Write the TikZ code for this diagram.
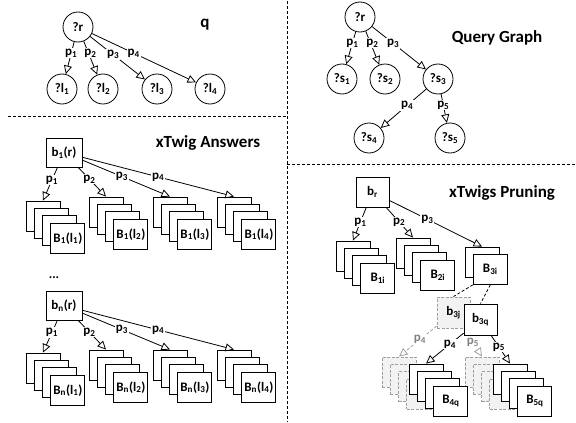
\documentclass[tikz,border=0pt]{standalone}
\usepackage{fontspec}
\setmainfont{Carlito}
\usetikzlibrary{arrows.meta}

\tikzset{
  every node/.style={font=\bfseries\fontsize{13}{13}\selectfont},
  qvar/.style={circle, draw, line width=0.8pt, minimum size=30pt, inner sep=0pt, fill=white},
  bnode/.style={rectangle, draw, line width=0.9pt, minimum width=34pt, minimum height=30pt, inner sep=0pt, fill=white},
  gnode/.style={bnode, draw=gray!75, dash pattern=on 3pt off 1.5pt, fill=gray!10},
  edge/.style={line width=0.8pt, -{Triangle[open, length=8.5pt, width=8pt]}},
  gedge/.style={edge, draw=gray!75, dash pattern=on 3pt off 2pt},
  link/.style={line width=0.8pt, dash pattern=on 3pt off 2pt},
  lbl/.style={fill=white, inner sep=1pt},
  glbl/.style={lbl, text=gray},
  title/.style={font=\bfseries\fontsize{17}{17}\selectfont},
  divider/.style={line width=0.7pt, dash pattern=on 3pt off 2pt},
}

% a stack of answer boxes: name, left, top, count, style, label of the front box
\newcommand{\twigstack}[6]{%
  \foreach \k in {1,...,#4}{%
    \node[#5] (#1-\k) at ({#2+17+(\k-1)*8.3},{#3+15+(\k-1)*7.4}) {\ifnum\k=#4 #6\fi};
  }%
}
\newcommand{\sbs}[1]{\textsubscript{#1}}

\begin{document}
\begin{tikzpicture}[x=1pt,y=-1pt]
\useasboundingbox (0,0) rectangle (576,423);

% panel dividers
\draw[divider] (287,1) -- (287,422);
\draw[divider] (8,116) -- (287,116);
\draw[divider] (287,164) -- (576,164);

% ---------------- query twig q ----------------
\node[title] (tq) at (205,25) {q};
\node[qvar] (qr)  at (78,27)  {?r};
\node[qvar] (ql1) at (62,89)  {?l\sbs{1}};
\node[qvar] (ql2) at (103,89) {?l\sbs{2}};
\node[qvar] (ql3) at (157,89) {?l\sbs{3}};
\node[qvar] (ql4) at (210,89) {?l\sbs{4}};
\draw[edge] (qr) -- node[lbl,pos=0.35] {p\sbs{1}} (ql1);
\draw[edge] (qr) -- node[lbl,pos=0.35,xshift=2pt] {p\sbs{2}} (ql2);
\draw[edge] (qr) -- node[lbl,pos=0.42] {p\sbs{3}} (ql3);
\draw[edge] (qr) -- node[lbl,pos=0.40] {p\sbs{4}} (ql4);

% ---------------- query graph ----------------
\node[title] (tg) at (497,38) {Query Graph};
\node[qvar] (gr)  at (360,17)  {?r};
\node[qvar] (gs1) at (342,79)  {?s\sbs{1}};
\node[qvar] (gs2) at (385,79)  {?s\sbs{2}};
\node[qvar] (gs3) at (438,79)  {?s\sbs{3}};
\node[qvar] (gs4) at (369,138) {?s\sbs{4}};
\node[qvar] (gs5) at (450,138) {?s\sbs{5}};
\draw[edge] (gr) -- node[lbl,pos=0.35] {p\sbs{1}} (gs1);
\draw[edge] (gr) -- node[lbl,pos=0.35,xshift=2pt] {p\sbs{2}} (gs2);
\draw[edge] (gr) -- node[lbl,pos=0.39] {p\sbs{3}} (gs3);
\draw[edge] (gs3) -- node[lbl,pos=0.42] {p\sbs{4}} (gs4);
\draw[edge] (gs3) -- node[lbl,pos=0.38] {p\sbs{5}} (gs5);

% ---------------- xTwig answers ----------------
\node[title] (ta) at (208,143) {xTwig Answers};
\node[bnode, minimum width=36pt, minimum height=29pt] (b1) at (64,152.5) {b\sbs{1}(r)};
\twigstack{a1}{26}{201}{4}{bnode}{B\sbs{1}(l\sbs{1})}
\twigstack{a2}{89}{197}{4}{bnode}{B\sbs{1}(l\sbs{2})}
\twigstack{a3}{153}{197}{4}{bnode}{B\sbs{1}(l\sbs{3})}
\twigstack{a4}{217}{197}{4}{bnode}{B\sbs{1}(l\sbs{4})}
\draw[edge] (b1) -- node[lbl,pos=0.38] {p\sbs{1}} (a1-1.north);
\draw[edge] (b1) -- node[lbl,pos=0.40] {p\sbs{2}} (a2-1.north);
\draw[edge] (b1) -- node[lbl,pos=0.45] {p\sbs{3}} (a3-1.north);
\draw[edge] (b1) -- node[lbl,pos=0.50] {p\sbs{4}} (a4-1.north);

\node (dots) at (54,278) {...};

\node[bnode, minimum width=36pt, minimum height=29pt] (bn) at (64,305.5) {b\sbs{n}(r)};
\twigstack{c1}{26}{353}{4}{bnode}{B\sbs{n}(l\sbs{1})}
\twigstack{c2}{89}{350}{4}{bnode}{B\sbs{n}(l\sbs{2})}
\twigstack{c3}{153}{350}{4}{bnode}{B\sbs{n}(l\sbs{3})}
\twigstack{c4}{217}{350}{4}{bnode}{B\sbs{n}(l\sbs{4})}
\draw[edge] (bn) -- node[lbl,pos=0.38] {p\sbs{1}} (c1-1.north);
\draw[edge] (bn) -- node[lbl,pos=0.40] {p\sbs{2}} (c2-1.north);
\draw[edge] (bn) -- node[lbl,pos=0.45] {p\sbs{3}} (c3-1.north);
\draw[edge] (bn) -- node[lbl,pos=0.50] {p\sbs{4}} (c4-1.north);

% ---------------- xTwigs pruning ----------------
\node[title] (tp) at (502,193) {xTwigs Pruning};
\node[bnode, minimum width=33pt] (br) at (372.5,192) {b\sbs{r}};
\twigstack{p1}{336}{241}{4}{bnode}{B\sbs{1i}}
\twigstack{p2}{396}{238}{4}{bnode}{B\sbs{2i}}
\twigstack{p3}{465}{247}{2}{bnode}{B\sbs{3i}}
\draw[edge] (br) -- node[lbl,pos=0.44] {p\sbs{1}} (p1-1.north);
\draw[edge] (br) -- node[lbl,pos=0.48] {p\sbs{2}} (p2-1.north);
\draw[edge] (br) -- node[lbl,pos=0.41] {p\sbs{3}} (p3-1.north);

% pruned branch (grey) and kept branch (black)
\node[gnode, minimum width=33pt, minimum height=31pt] (b3j) at (453.5,312.5) {b\sbs{3j}};
\draw[link] (p3-2.south west) -- (b3j.north);
\twigstack{g1}{382}{357}{4}{gnode}{}
\twigstack{g2}{465}{357}{4}{gnode}{}
\draw[gedge] (b3j) -- node[glbl,pos=0.44] {p\sbs{4}} (g1-1.north);
\draw[gedge] (b3j) -- node[glbl,pos=0.50] {p\sbs{5}} (g2-1.north);

\node[bnode, minimum width=33pt, minimum height=31pt] (b3q) at (480.5,319.5) {b\sbs{3q}};
\draw[link] (p3-2.south) -- (b3q.north);
\twigstack{k1}{409}{364}{4}{bnode}{B\sbs{4q}}
\twigstack{k2}{493}{364}{4}{bnode}{B\sbs{5q}}
\draw[edge] (b3q) -- node[lbl,pos=0.36] {p\sbs{4}} (k1-1.north);
\draw[edge] (b3q) -- node[lbl,pos=0.41] {p\sbs{5}} (k2-1.north);
\end{tikzpicture}
\end{document}
